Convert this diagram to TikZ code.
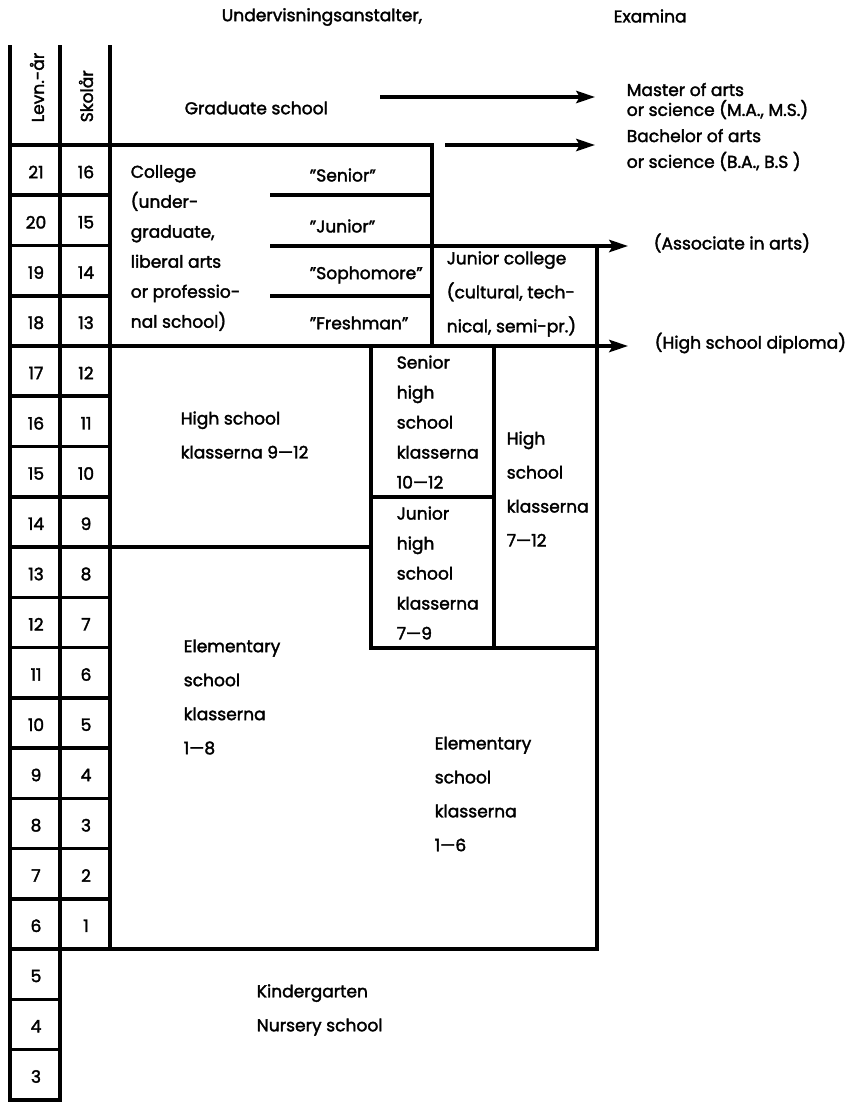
\documentclass[tikz,border=0pt]{standalone}
\usepackage{fontspec}
\setmainfont{Poppins}[FakeBold=2]
\usetikzlibrary{arrows.meta}
\tikzset{
  num/.style={inner sep=0pt, font=\fontsize{14.6}{18}\selectfont},
  txt/.style={inner sep=0pt, anchor=west, align=left, font=\fontsize{14.6}{25.6}\selectfont},
  txtw/.style={txt, font=\fontsize{14.6}{29}\selectfont},
  arr/.style={-{Stealth[length=16pt,width=10.5pt,inset=3pt]}}
}
\begin{document}
\begin{tikzpicture}[x=0.3mm, y=-0.3mm, line width=3pt, line cap=rect]
    \useasboundingbox (0,0) rectangle (850,1103);
    \node[txt] (title) at (220,17) {Undervisningsanstalter,};
    \node[txt] (examina) at (612,16) {Examina};
    \node[txt, rotate=90] (levn) at (37,124) {Levn.-år};
    \node[txt, rotate=90] (skol) at (86,124) {Skolår};
    \foreach \a [count=\i from 0] in {21,20,...,3}
        \node[num] (lev\a) at (36,{172+\i*50.25}) {\a};
    \foreach \s [count=\i from 0] in {16,15,...,1}
        \node[num] (sk\s) at (86,{172+\i*50.25}) {\s};
    \draw (10,47) -- (10,1100);
    \draw (60,47) -- (60,1100);
    \draw (110,47) -- (110,949);
    \foreach \i in {0,...,16}
        \draw (10,{145+\i*50.25}) -- (110,{145+\i*50.25});
    \foreach \i in {17,18,19}
        \draw (10,{145+\i*50.25}) -- (60,{145+\i*50.25});
    \draw (110,145) -- (432,145) -- (432,346);
    \draw (272,195) -- (432,195);
    \draw (272,296) -- (432,296);
    \draw (597,246) -- (597,949) -- (60,949);
    \draw (110,547) -- (371,547);
    \draw (371,346) -- (371,648) -- (597,648);
    \draw (494,346) -- (494,648);
    \draw (371,497) -- (494,497);
    \node[txt] (grad) at (183,108) {Graduate school};
    \node[txt, font=\fontsize{14.6}{17}\selectfont] (master) at (625,101) {Master of arts\\or science (M.A., M.S.)};
    \node[txt, font=\fontsize{14.6}{22}\selectfont] (bachelor) at (625,150) {Bachelor of arts\\or science (B.A., B.S )};
    \node[txt] (assoc) at (652,243) {(Associate in arts)};
    \node[txt] (diploma) at (653,343) {(High school diploma)};
    \coordinate (gradE) at (382,97);
    \coordinate (masterW) at (595,97);
    \coordinate (bachS) at (447,145);
    \coordinate (bachE) at (595,145);
    \coordinate (assocS) at (272,246);
    \coordinate (assocE) at (628,246);
    \coordinate (dipS) at (10,346);
    \coordinate (dipE) at (628,346);
    \draw[arr] (gradE) -- (masterW);
    \draw[arr] (bachS) -- (bachE);
    \draw[arr] (assocS) -- (assocE);
    \draw[arr] (dipS) -- (dipE);
    \node[txt] (college) at (129,248) {College\\(under-\\graduate,\\liberal arts\\or professio-\\nal school)};
    \node[txt] (senior) at (308,175) {"Senior"};
    \node[txt] (junior) at (308,226) {"Junior"};
    \node[txt] (sophomore) at (308,275) {"Sophomore"};
    \node[txt] (freshman) at (308,323) {"Freshman"};
    \node[txtw] (jcol) at (445,294) {Junior college\\(cultural, tech-\\nical, semi-pr.)};
    \node[txtw] (hs912) at (179,435) {High school\\klasserna 9—12};
    \node[txt] (shs) at (395,422) {Senior\\high\\school\\klasserna\\10—12};
    \node[txt] (jhs) at (395,573) {Junior\\high\\school\\klasserna\\7—9};
    \node[txtw] (hs712) at (505,489) {High\\school\\klasserna\\7—12};
    \node[txtw] (elem8) at (182,697) {Elementary\\school\\klasserna\\1—8};
    \node[txtw] (elem6) at (433,794) {Elementary\\school\\klasserna\\1—6};
    \node[txtw] (kinder) at (255,1010) {Kindergarten\\Nursery school};
\end{tikzpicture}
\end{document}
